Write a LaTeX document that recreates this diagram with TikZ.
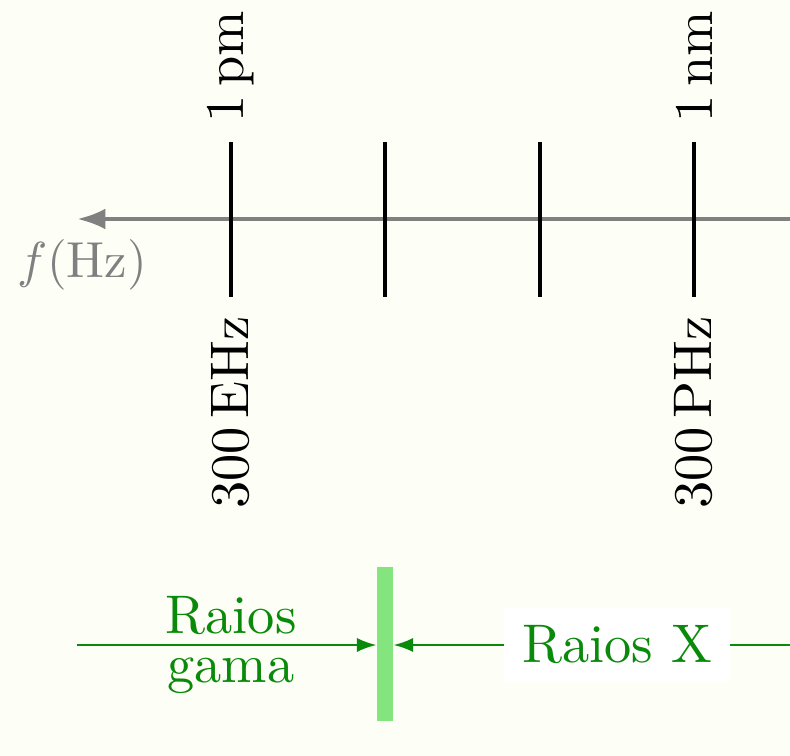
\documentclass[tikz,border=0pt]{standalone}
\usetikzlibrary{arrows.meta}
\definecolor{bgc}{RGB}{253,254,246}
\definecolor{txtgreen}{RGB}{10,138,10}
\definecolor{bargreen}{RGB}{132,228,126}
\begin{document}
\begin{tikzpicture}[x=0.18382pt,y=-0.18382pt,
  tickline/.style={black,line width=0.8pt},
  axisline/.style={gray,line width=0.8pt,-{Latex[length=5.2pt,width=3.8pt]}},
  topl/.style={rotate=90,anchor=west,black},
  botl/.style={rotate=90,anchor=east,black},
  garrow/.style={txtgreen,line width=0.4pt,-{Latex[length=3.6pt,width=2.6pt]}},
  glabel/.style={txtgreen,align=center}]
\fill[bgc] (0,0) rectangle (790,756);
\useasboundingbox (0,0) rectangle (790,756);
% axis
\coordinate (axR) at (790,219);
\coordinate (axL) at (77,219);
\draw[axisline] (axR) -- (axL);
\node[gray,scale=0.93] (flab) at (82,265) {$f(\mathrm{Hz})$};
% ticks
\foreach \i/\x in {1/231,2/385,3/540,4/694}{
  \coordinate (t\i top) at (\x,142);
  \coordinate (t\i bot) at (\x,297);
  \draw[tickline] (t\i top) -- (t\i bot);
}
\node[topl] (l1) at (t1top) {1\,pm};
\node[topl] (l4) at (t4top) {1\,nm};
\node[botl] (b1) at (t1bot) {300\,EHz};
\node[botl] (b4) at (t4bot) {300\,PHz};
% green bar
\coordinate (barT) at (385,567);
\coordinate (barB) at (385,721);
\draw[bargreen,line width=3pt] (barT) -- (barB);
\coordinate (barL) at (376.5,645);
\coordinate (barR) at (393.5,645);
\coordinate (gL) at (77,645);
\coordinate (gR) at (790,645);
\draw[garrow] (gL) -- (barL);
\draw[garrow] (gR) -- (barR);
\node[glabel] (gama) at (231,645) {Raios\\[-3pt]gama};
\node[glabel,fill=white] (xray) at (617,645) {Raios X};
\end{tikzpicture}
\end{document}
